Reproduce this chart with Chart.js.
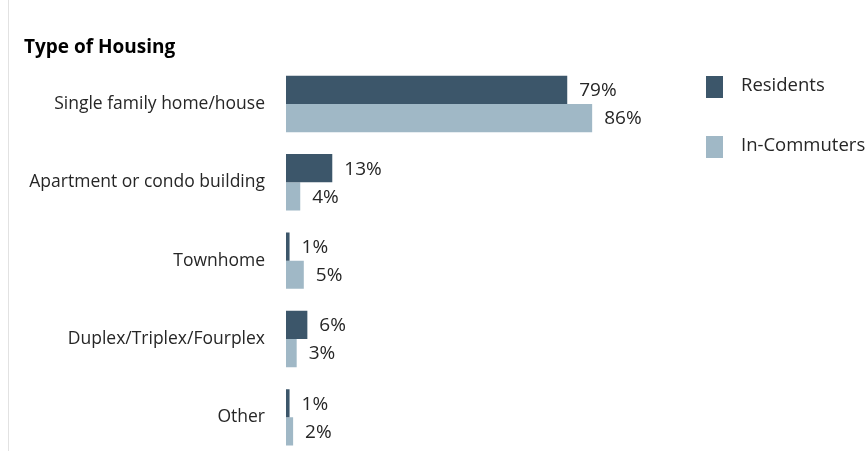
<!DOCTYPE html>
<html>
<head>
<meta charset="utf-8">
<script src="https://cdn.jsdelivr.net/npm/chart.js@4"></script>
<style>
  html, body { margin: 0; padding: 0; background: #fff; overflow: hidden; }
  #wrap { position: relative; width: 866px; height: 451px; overflow: hidden; }
  #edge { position: absolute; left: 8px; top: 0; width: 1px; height: 451px; background: #e2e2e2; }
  canvas { position: absolute; left: 0; top: 0; }
</style>
</head>
<body>
<div id="wrap">
  <canvas id="housingChart" width="866" height="480"></canvas>
  <div id="edge"></div>
</div>
<script>
// Chart data
const categories = ['Single family home/house', 'Apartment or condo building', 'Townhome', 'Duplex/Triplex/Fourplex', 'Other'];
const residents = [79, 13, 1, 6, 1];
const inCommuters = [86, 4, 5, 3, 2];
const seriesNames = ['Residents', 'In-Commuters'];
const seriesColors = ['#3c566a', '#a0b8c6'];

const FONT = '"Open Sans", "Noto Sans", sans-serif';

// Percent labels at the end of each bar
const valueLabels = {
  id: 'valueLabels',
  afterDatasetsDraw(chart) {
    const ctx = chart.ctx;
    ctx.save();
    ctx.font = '19px ' + FONT;
    ctx.fillStyle = '#262626';
    ctx.textBaseline = 'middle';
    ctx.textAlign = 'left';
    chart.data.datasets.forEach((ds, i) => {
      chart.getDatasetMeta(i).data.forEach((bar, j) => {
        ctx.fillText(ds.data[j] + '%', bar.x + 12, bar.y + 1);
      });
    });
    ctx.restore();
  }
};

// Legend on the right side
const sideLegend = {
  id: 'sideLegend',
  afterDraw(chart) {
    const ctx = chart.ctx;
    ctx.save();
    ctx.font = '18.5px ' + FONT;
    ctx.textBaseline = 'middle';
    ctx.textAlign = 'left';
    seriesNames.forEach((name, i) => {
      const y = 76 + i * 60;
      ctx.fillStyle = seriesColors[i];
      ctx.fillRect(706, y, 17, 22);
      ctx.fillStyle = '#262626';
      ctx.fillText(name, 741, y + 10);
    });
    ctx.restore();
  }
};

new Chart(document.getElementById('housingChart'), {
  type: 'bar',
  data: {
    labels: categories,
    datasets: [
      { label: seriesNames[0], data: residents, backgroundColor: seriesColors[0] },
      { label: seriesNames[1], data: inCommuters, backgroundColor: seriesColors[1] }
    ]
  },
  options: {
    indexAxis: 'y',
    responsive: false,
    animation: false,
    layout: { padding: { left: 24, right: 224, top: 0, bottom: 13 } },
    datasets: { bar: { categoryPercentage: 0.72, barPercentage: 1 } },
    scales: {
      x: { display: false, min: 0, max: 100 },
      y: {
        grid: { display: false },
        border: { display: false },
        ticks: { color: '#262626', font: { family: FONT, size: 17.5 }, padding: 13 },
        afterFit(scale) { scale.width = 262; }
      }
    },
    plugins: {
      legend: { display: false },
      tooltip: { enabled: false },
      title: {
        display: true,
        text: 'Type of Housing',
        align: 'start',
        color: '#000',
        font: { family: FONT, size: 19, weight: 'bold' },
        padding: { top: 36, bottom: 6 }
      }
    }
  },
  plugins: [valueLabels, sideLegend]
});
</script>
</body>
</html>
